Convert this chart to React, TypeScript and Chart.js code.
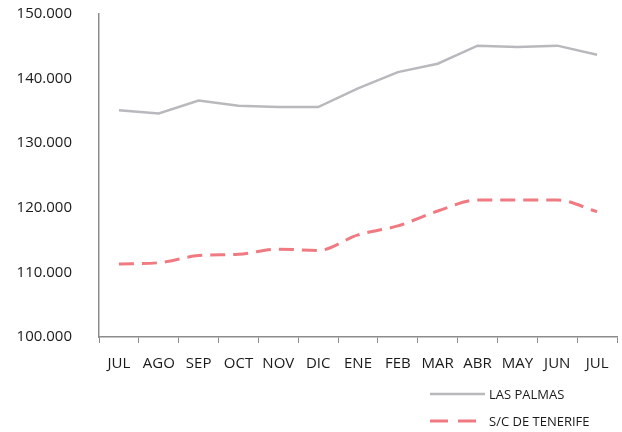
import React, { useEffect, useRef } from "react";
import { Chart, registerables } from "chart.js";

Chart.register(...registerables);

const categories = ["JUL", "AGO", "SEP", "OCT", "NOV", "DIC", "ENE", "FEB", "MAR", "ABR", "MAY", "JUN", "JUL"];
const lasPalmas = [135.1, 134.6, 136.6, 135.8, 135.6, 135.6, 138.5, 141.0, 142.3, 145.1, 144.9, 145.1, 143.7];
const tenerife = [111.3, 111.5, 112.6, 112.8, 113.6, 113.4, 115.8, 117.2, 119.5, 121.2, 121.2, 121.2, 119.4];
const yTicks = [100, 110, 120, 130, 140, 150];
const seriesNames = ["LAS PALMAS", "S/C DE TENERIFE"];

const FONT = "'Open Sans', Lato, sans-serif";
const AXIS = "#8c8c8c";

const legendPlugin = {
  id: "customLegend",
  afterDraw(chart: any) {
    const ctx = chart.ctx;
    const items = [
      { y: 394, ds: chart.data.datasets[0], dash: [] as number[] },
      { y: 421, ds: chart.data.datasets[1], dash: [18, 10] },
    ];
    ctx.save();
    items.forEach((it) => {
      ctx.beginPath();
      ctx.strokeStyle = it.ds.borderColor;
      ctx.lineWidth = it.ds.borderWidth;
      ctx.setLineDash(it.dash);
      ctx.moveTo(430, it.y);
      ctx.lineTo(485, it.y);
      ctx.stroke();
      ctx.setLineDash([]);
      ctx.fillStyle = "#1a1a1a";
      ctx.font = `13px ${FONT}`;
      ctx.textBaseline = "middle";
      ctx.textAlign = "left";
      ctx.fillText(it.ds.label, 489, it.y + 1);
    });
    ctx.restore();
  },
};

export default function App() {
  const ref = useRef<HTMLCanvasElement>(null);
  useEffect(() => {
    if (!ref.current) return;
    const chart = new Chart(ref.current, {
      type: "line",
      data: {
        labels: categories,
        datasets: [
          {
            label: seriesNames[0],
            data: lasPalmas,
            borderColor: "#b9b9bd",
            borderWidth: 2.5,
            pointRadius: 0,
            tension: 0,
            fill: false,
          },
          {
            label: seriesNames[1],
            data: tenerife,
            borderColor: "#f07a82",
            borderWidth: 3,
            borderDash: [15, 8],
            pointRadius: 0,
            cubicInterpolationMode: "monotone",
            fill: false,
          },
        ],
      },
      options: {
        animation: false,
        responsive: false,
        maintainAspectRatio: false,
        layout: { padding: { top: 14, right: 5, left: 0, bottom: 0 } },
        plugins: {
          legend: { display: false },
          tooltip: { enabled: false },
        },
        scales: {
          x: {
            type: "category",
            offset: true,
            grid: {
              display: true,
              offset: true,
              drawOnChartArea: false,
              drawTicks: true,
              tickLength: 6,
              color: AXIS,
            },
            border: { display: true, color: AXIS, width: 1.5 },
            ticks: {
              color: "#1a1a1a",
              font: { family: FONT, size: 15 },
              padding: 12,
              maxRotation: 0,
              autoSkip: false,
            },
            afterFit(scale: any) {
              scale.height = 95;
            },
          },
          y: {
            min: 100,
            max: 150,
            afterBuildTicks(scale: any) {
              scale.ticks = yTicks.map((v) => ({ value: v }));
            },
            grid: { display: false, drawTicks: false },
            border: { display: true, color: AXIS, width: 1.5 },
            ticks: {
              color: "#1a1a1a",
              font: { family: FONT, size: 15 },
              padding: 27,
              callback: (v: any) => Number(v).toFixed(3),
            },
            afterFit(scale: any) {
              scale.width = 99;
              scale.paddingTop = 0;
              scale.paddingBottom = 0;
            },
          },
        },
      },
      plugins: [legendPlugin],
    });
    return () => chart.destroy();
  }, []);
  return (
    <div style={{ position: "absolute", left: 0, top: 0, width: 622, height: 432, background: "#fff" }}>
      <canvas ref={ref} width={622} height={432} style={{ width: 622, height: 432, display: "block" }} />
    </div>
  );
}
